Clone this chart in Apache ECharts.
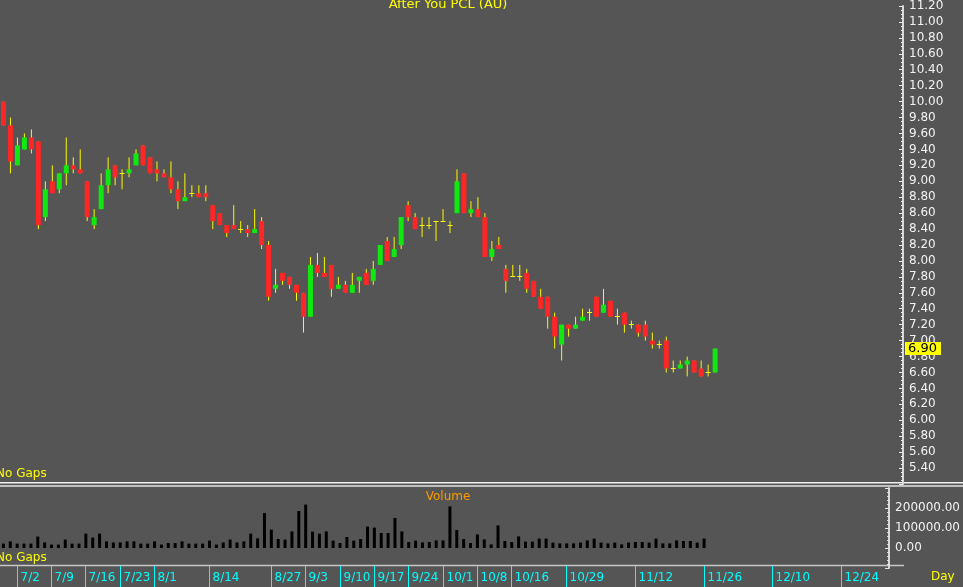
<!DOCTYPE html>
<html><head><meta charset="utf-8">
<script src="https://cdn.jsdelivr.net/npm/echarts@6/dist/echarts.min.js"></script>
<style>html,body{margin:0;padding:0;background:#555555;overflow:hidden;}#c{width:963px;height:587px;}</style>
</head><body><div id="c"></div>
<script>
const dates = ['6/28','7/1','7/2','7/3','7/4','7/5','7/8','7/9','7/10','7/11','7/12','7/15','7/16','7/17','7/18','7/19','7/22','7/23','7/24','7/25','7/26','7/31','8/1','8/2','8/5','8/6','8/7','8/8','8/9','8/13','8/14','8/15','8/16','8/19','8/20','8/21','8/22','8/23','8/26','8/27','8/28','8/29','8/30','9/2','9/3','9/4','9/5','9/6','9/9','9/10','9/11','9/12','9/13','9/16','9/17','9/18','9/19','9/20','9/23','9/24','9/25','9/26','9/27','9/30','10/1','10/2','10/3','10/4','10/7','10/8','10/9','10/10','10/11','10/15','10/16','10/17','10/18','10/21','10/22','10/24','10/25','10/28','10/29','10/30','10/31','11/1','11/4','11/5','11/6','11/7','11/8','11/11','11/12','11/13','11/14','11/15','11/18','11/19','11/20','11/21','11/22','11/25','11/26','11/27','11/28','11/29','12/2','12/3','12/4','12/5','12/6','12/9','12/10','12/11','12/12','12/13','12/16','12/17','12/18','12/19','12/20','12/23','12/24','12/25','12/26','12/27','12/30','12/31','1/2'];
const tickDates = ['7/2','7/9','7/16','7/23','8/1','8/14','8/27','9/3','9/10','9/17','9/24','10/1','10/8','10/16','10/29','11/12','11/26','12/10','12/24'];

const openP = [10.00,9.70,9.20,9.40,9.55,9.50,8.55,9.00,8.90,9.10, 9.20,9.15,9.00,8.45,8.65,8.95,9.20,9.10,9.10,9.20, 9.45,9.30,9.15,9.10,9.05,8.90,8.75,8.85,8.85,8.85, 8.70,8.60,8.45,8.45,8.40,8.40,8.35,8.50,8.20,7.65, 7.85,7.80,7.70,7.60,7.30,7.95,7.85,7.95,7.65,7.70, 7.60,7.75,7.85,7.75,7.95,8.25,8.05,8.20,8.70,8.55, 8.45,8.45,8.50,8.50,8.45,8.60,9.10,8.60,8.65,8.55, 8.05,8.20,7.90,7.80,7.80,7.85,7.75,7.55,7.55,7.30, 6.95,7.20,7.15,7.25,7.35,7.55,7.35,7.50,7.30,7.35, 7.20,7.20,7.20,7.00,6.95,7.00,6.65,6.65,6.70,6.75, 6.65,6.60,6.60];
const highP = [10.00,9.80,9.55,9.60,9.65,9.50,9.00,9.20,9.10,9.55, 9.30,9.40,9.00,8.65,9.10,9.30,9.20,9.15,9.30,9.40, 9.45,9.30,9.25,9.15,9.25,9.00,9.10,8.95,8.95,8.95, 8.70,8.60,8.45,8.70,8.50,8.45,8.65,8.55,8.25,7.90, 7.85,7.80,7.70,7.60,8.05,8.10,8.05,7.95,7.80,7.75, 7.85,7.80,7.90,8.00,8.20,8.30,8.30,8.55,8.75,8.60, 8.55,8.55,8.50,8.65,8.50,9.15,9.10,8.75,8.80,8.60, 8.25,8.30,7.95,7.95,7.95,7.90,7.75,7.65,7.55,7.35, 7.20,7.20,7.30,7.40,7.40,7.55,7.65,7.50,7.40,7.35, 7.25,7.20,7.25,7.10,7.00,7.05,6.75,6.75,6.80,6.75, 6.75,6.70,6.90];
const lowP = [9.70,9.10,9.20,9.40,9.35,8.40,8.50,8.85,8.85,8.95, 9.10,9.10,8.50,8.40,8.65,8.85,8.95,8.90,9.05,9.20, 9.20,9.10,9.00,9.05,8.85,8.65,8.75,8.80,8.80,8.75, 8.40,8.45,8.30,8.40,8.35,8.30,8.35,8.15,7.50,7.60, 7.70,7.65,7.50,7.10,7.30,7.80,7.80,7.55,7.65,7.60, 7.60,7.60,7.70,7.70,7.95,8.00,8.05,8.15,8.50,8.40, 8.30,8.40,8.25,8.50,8.35,8.60,8.60,8.55,8.55,8.05, 8.00,8.15,7.60,7.80,7.75,7.60,7.55,7.40,7.15,6.90, 6.75,7.05,7.15,7.25,7.25,7.30,7.35,7.30,7.20,7.10, 7.15,7.05,7.00,6.90,6.90,6.60,6.60,6.65,6.55,6.60, 6.55,6.55,6.60];
const closeP = [9.70,9.25,9.45,9.55,9.40,8.45,8.90,8.85,9.10,9.20, 9.15,9.10,8.55,8.55,8.95,9.15,9.05,9.10,9.15,9.35, 9.20,9.10,9.10,9.05,8.90,8.75,8.80,8.85,8.80,8.80, 8.50,8.45,8.35,8.40,8.40,8.35,8.40,8.20,7.55,7.70, 7.75,7.70,7.60,7.30,7.95,7.85,7.80,7.65,7.70,7.60, 7.70,7.80,7.70,7.90,8.20,8.00,8.15,8.55,8.55,8.40, 8.45,8.45,8.50,8.50,8.45,9.00,8.60,8.65,8.55,8.05, 8.15,8.15,7.75,7.80,7.80,7.65,7.55,7.40,7.30,7.05, 7.20,7.15,7.20,7.30,7.35,7.30,7.45,7.30,7.30,7.20, 7.20,7.10,7.05,6.95,6.95,6.65,6.65,6.70,6.75,6.60, 6.55,6.60,6.90];
const volume = [22000,33000,22000,22000,22000,57000,28000,17000,17000,42000, 22000,22000,72000,52000,72000,33000,28000,28000,33000,33000, 22000,22000,33000,17000,25000,25000,33000,22000,22000,22000, 37000,17000,28000,42000,28000,33000,72000,48000,175000,92000, 45000,42000,83000,185000,217000,82000,72000,83000,37000,25000, 55000,37000,45000,107000,102000,75000,75000,150000,83000,30000, 37000,28000,30000,38000,38000,208000,90000,45000,25000,68000, 43000,18000,113000,35000,30000,58000,32000,32000,47000,47000, 27000,23000,23000,23000,27000,38000,47000,27000,23000,27000, 18000,27000,30000,30000,27000,47000,23000,23000,38000,35000, 35000,27000,47000];

const UP = '#10e810', DOWN = '#ff2626', WICK = '#fafa00';
const FONT = 'DejaVu Sans';
const lastIdx = closeP.length - 1;
const lastClose = closeP[lastIdx];
const candleData = openP.map((o, i) => [i, o, closeP[i], lowP[i], highP[i]]);
const tickData = tickDates.map(d => [dates.indexOf(d)]);

function renderCandle(params, api) {
  const i = api.value(0), o = api.value(1), c = api.value(2), lo = api.value(3), hi = api.value(4);
  const pO = api.coord([i, o]);
  const x = pO[0];
  const yO = pO[1], yC = api.coord([i, c])[1], yL = api.coord([i, lo])[1], yH = api.coord([i, hi])[1];
  const half = 2.5;
  const children = [{ type: 'line', shape: { x1: x, y1: yH, x2: x, y2: yL }, style: { stroke: WICK, lineWidth: 1 } }];
  if (o === c) {
    children.push({ type: 'rect', shape: { x: x - half, y: Math.floor(yO), width: half * 2, height: 1 }, style: { fill: WICK } });
  } else {
    children.push({ type: 'rect', shape: { x: x - half, y: Math.min(yO, yC), width: half * 2, height: Math.abs(yO - yC) }, style: { fill: c > o ? UP : DOWN } });
  }
  return { type: 'group', children: children };
}

function renderDateTick(params, api) {
  const cs = params.coordSys;
  const x = Math.floor(api.coord([api.value(0), 0])[0]) + 0.5;
  const yb = cs.y + cs.height;
  return { type: 'group', children: [
    { type: 'line', shape: { x1: x, y1: yb - 2, x2: x, y2: yb + 20 }, style: { stroke: '#00ffff', lineWidth: 1 } },
    { type: 'text', x: x + 3, y: yb + 10, style: { text: tickDates[params.dataIndex], fill: '#00ffff', font: '12px "DejaVu Sans"', textAlign: 'left', textVerticalAlign: 'middle' } }
  ] };
}

function renderPriceTag(params, api) {
  const cs = params.coordSys;
  const y = Math.round(api.coord([api.value(0), api.value(1)])[1]);
  const x0 = cs.x + cs.width + 5;
  return { type: 'group', children: [
    { type: 'rect', shape: { x: x0, y: y - 7, width: 36, height: 13 }, style: { fill: '#ffff00' } },
    { type: 'text', x: x0 + 3, y: y, style: { text: api.value(1).toFixed(2), fill: '#000000', font: '13px "DejaVu Sans"', textAlign: 'left', textVerticalAlign: 'middle' } }
  ] };
}

const chart = echarts.init(document.getElementById('c'), null, { renderer: 'canvas' });
chart.setOption({
  animation: false,
  backgroundColor: '#555555',
  grid: [
    { left: -3, top: 4, width: 903, height: 480 },
    { left: -3, top: 488, width: 903, height: 80 }
  ],
  xAxis: [
    { type: 'category', gridIndex: 0, data: dates, boundaryGap: true, axisLine: { show: false }, axisTick: { show: false }, axisLabel: { show: false }, splitLine: { show: false } },
    { type: 'category', gridIndex: 1, data: dates, boundaryGap: true, axisLine: { show: false }, axisTick: { show: false }, axisLabel: { show: false }, splitLine: { show: false } }
  ],
  yAxis: [
    { type: 'value', gridIndex: 0, position: 'right', offset: 3, min: 5.2, max: 11.2, interval: 0.2,
      axisLine: { show: true, lineStyle: { color: '#d8d8d8', width: 2 } },
      axisTick: { show: true, inside: true, length: 4, lineStyle: { color: '#e8e8e8' } },
      minorTick: { show: true, splitNumber: 4, length: 2, lineStyle: { color: '#e8e8e8' } },
      axisLabel: { color: '#f2f2f2', fontFamily: FONT, fontSize: 12, margin: 6, formatter: v => v < 5.3 ? '' : v.toFixed(2) },
      splitLine: { show: false } },
    { type: 'value', gridIndex: 1, position: 'right', offset: 3, min: -100000, max: 300000, interval: 100000,
      axisLine: { show: true, lineStyle: { color: '#d8d8d8', width: 2 } },
      axisTick: { show: true, inside: true, length: 4, lineStyle: { color: '#e8e8e8' } },
      minorTick: { show: true, splitNumber: 5, length: 2, lineStyle: { color: '#e8e8e8' } },
      axisLabel: { color: '#f2f2f2', fontFamily: FONT, fontSize: 12, margin: 6, formatter: v => (v < 0 || v > 250000) ? '' : v.toFixed(2) },
      splitLine: { show: false } }
  ],
  series: [
    { type: 'custom', xAxisIndex: 0, yAxisIndex: 0, data: candleData, renderItem: renderCandle, encode: { x: 0, y: [1, 2, 3, 4] }, silent: true },
    { type: 'custom', xAxisIndex: 0, yAxisIndex: 0, data: [[lastIdx, lastClose]], renderItem: renderPriceTag, encode: { x: 0, y: 1 }, clip: false, silent: true, z: 5 },
    { type: 'bar', xAxisIndex: 1, yAxisIndex: 1, data: volume, barWidth: 3, itemStyle: { color: '#000000' }, silent: true },
    { type: 'custom', xAxisIndex: 1, yAxisIndex: 1, data: tickData, renderItem: renderDateTick, encode: { x: 0 }, clip: false, silent: true }
  ],
  graphic: [
    { type: 'rect', shape: { x: 0, y: 482, width: 963, height: 1.5 }, style: { fill: '#f0f0f0' }, silent: true },
    { type: 'rect', shape: { x: 0, y: 485.3, width: 963, height: 1.5 }, style: { fill: '#e4e4e4' }, silent: true },
    { type: 'rect', shape: { x: 0, y: 564.7, width: 904, height: 1.6 }, style: { fill: '#c8c8c8' }, silent: true },
    { type: 'text', x: 448, y: 5, style: { text: 'After You PCL (AU)', fill: '#ffff00', font: '13px "DejaVu Sans"', textAlign: 'center', textVerticalAlign: 'middle' } },
    { type: 'text', x: 448, y: 497, style: { text: 'Volume', fill: '#ff9a00', font: '12px "DejaVu Sans"', textAlign: 'center', textVerticalAlign: 'middle' } },
    { type: 'text', x: -4, y: 474, style: { text: 'No Gaps', fill: '#ffff00', font: '12px "DejaVu Sans"', textAlign: 'left', textVerticalAlign: 'middle' } },
    { type: 'text', x: -4, y: 558, style: { text: 'No Gaps', fill: '#ffff00', font: '12px "DejaVu Sans"', textAlign: 'left', textVerticalAlign: 'middle' } },
    { type: 'text', x: 931, y: 577, style: { text: 'Day', fill: '#ffff00', font: '12px "DejaVu Sans"', textAlign: 'left', textVerticalAlign: 'middle' } }
  ]
});
</script>
</body></html>
